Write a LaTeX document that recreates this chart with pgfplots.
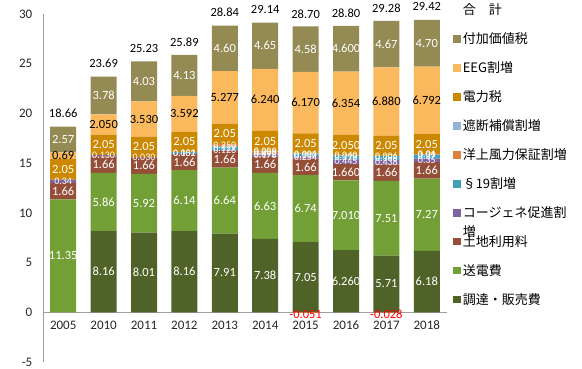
\documentclass[border=0pt]{standalone}
\usepackage{fontspec}
\setmainfont{Carlito}
\newfontfamily\jp{Noto Sans CJK JP}
\usepackage{pgfplots}
\usepackage{pgfplotstable}
\pgfplotsset{compat=1.18}
\definecolor{cA}{HTML}{4F6228}
\definecolor{cB}{HTML}{72A036}
\definecolor{cC}{HTML}{954F38}
\definecolor{cD}{HTML}{7F63A0}
\definecolor{cE}{HTML}{3FA0B8}
\definecolor{cF}{HTML}{E0803F}
\definecolor{cG}{HTML}{95B3D7}
\definecolor{cH}{HTML}{CC8800}
\definecolor{cI}{HTML}{FBB95E}
\definecolor{cJ}{HTML}{948A54}

\pgfplotstableread{
x A B C D E F G H I J
0 0 11.35 1.66 0.34 0 0 0 2.05 0.69 2.57
1 8.16 5.86 1.66 0.130 0 0 0 2.05 2.050 3.78
2 8.01 5.92 1.66 0.030 0 0 0 2.05 3.530 4.03
3 8.16 6.14 1.66 0.002 0.151 0 0 2.05 3.592 4.13
4 7.91 6.64 1.66 0.126 0.329 0.250 0 2.05 5.277 4.60
5 7.38 6.63 1.66 0.178 0.092 0.250 0.009 2.05 6.240 4.65
6 7.05 6.74 1.66 0.254 0.237 0 0.006 2.05 6.170 4.58
7 6.260 7.010 1.660 0.445 0.378 0.040 0 2.050 6.354 4.600
8 5.71 7.51 1.66 0.438 0.388 0 0.006 2.05 6.880 4.67
9 6.18 7.27 1.66 0.345 0.370 0.037 0.011 2.05 6.792 4.70
}\data

\pgfplotstableread{
x F lab
6 -0.051 -0.051
8 -0.028 -0.028
}\negdata

\pgfplotstableread{
x y lab
0 18.66 18.66
1 23.69 23.69
2 25.23 25.23
3 25.89 25.89
4 28.84 28.84
5 29.14 29.14
6 28.70 28.70
7 28.80 28.80
8 29.28 29.28
9 29.42 29.42
}\totals

\pgfplotstableread{
x y lab
0 5.675 11.35
0 12.18 1.66
0 14.375 2.05
0 17.375 2.57
1 4.08 8.16
1 11.09 5.86
1 14.85 1.66
1 16.835 2.05
1 21.80 3.78
2 4.005 8.01
2 10.97 5.92
2 14.76 1.66
2 16.645 2.05
2 23.215 4.03
3 4.08 8.16
3 11.23 6.14
3 15.13 1.66
3 17.138 2.05
3 23.82 4.13
4 3.955 7.91
4 11.23 6.64
4 15.38 1.66
4 17.94 2.05
4 26.542 4.60
5 3.69 7.38
5 10.695 6.63
5 14.84 1.66
5 17.224 2.05
5 26.814 4.65
6 3.525 7.05
6 10.42 6.74
6 14.62 1.66
6 16.972 2.05
6 26.457 4.58
7 3.13 6.260
7 9.765 7.010
7 14.10 1.660
7 16.818 2.050
7 26.497 4.600
8 2.855 5.71
8 9.465 7.51
8 14.05 1.66
8 16.737 2.05
8 26.977 4.67
9 3.09 6.18
9 9.815 7.27
9 14.28 1.66
9 16.898 2.05
9 27.065 4.70
}\labW

\pgfplotstableread{
x y lab
0 13.18 0.34
1 15.745 0.130
2 15.605 0.030
3 15.961 0.002
3 16.0375 0.151
4 16.273 0.126
4 16.5005 0.329
4 16.79 0.250
5 15.759 0.178
5 15.894 0.092
5 16.065 0.250
5 16.1945 0.009
6 15.577 0.254
6 15.8225 0.237
6 15.944 0.006
7 15.1525 0.445
7 15.564 0.378
7 15.773 0.040
8 15.099 0.438
8 15.512 0.388
8 15.709 0.006
9 15.2825 0.35
9 15.64 0.37
9 15.8435 0.04
9 15.8675 0.01
}\labS

\pgfplotstableread{
x y lab
0 15.745 0.69
1 18.885 2.050
2 19.435 3.530
3 19.959 3.592
4 21.6035 5.277
5 21.369 6.240
6 21.082 6.170
7 21.02 6.354
8 21.202 6.880
9 21.319 6.792
}\labK

\pgfplotsset{
  common/.style={
    at={(0,0)}, anchor=south west,
    scale only axis, width=404pt, height=348pt,
    xmin=-0.5, xmax=9.5, ymin=-5, ymax=30,
    enlargelimits=false,
  },
  lbl/.style 2 args={draw=none, mark=none, nodes near coords,
    point meta=explicit symbolic, nodes near coords align={center},
    every node near coord/.append style={anchor=center, inner sep=0pt,
      font=\fontsize{#2}{#2}\selectfont, text=#1}},
}

\begin{document}
\begin{tikzpicture}
\path[use as bounding box] (-43pt,-7pt) rectangle (539pt,362pt);
\begin{axis}[
  common,
  ybar stacked, bar width=26pt,
  xtick={0,...,9},
  xticklabels={2005,2010,2011,2012,2013,2014,2015,2016,2017,2018},
  ytick={-5,0,5,10,15,20,25,30},
  axis x line=middle, axis y line=left,
  axis line style={-, draw=gray!75},
  tick style={draw=none},
  ticklabel style={font=\fontsize{13}{15}\selectfont, text=black!85},
  xticklabel style={yshift=-3pt},
  yticklabel style={xshift=-5pt},
  /pgf/number format/assume math mode=true,
  legend image code/.code={\fill[#1] (0pt,-3.75pt) rectangle (7.5pt,3.75pt);},
  reverse legend,
  legend cell align=left,
  legend style={at={(1.015,1.035)}, anchor=north west, draw=none, fill=none,
    font=\jp\fontsize{13}{15}\selectfont, row sep=12.5pt, inner sep=0pt},
]
\addplot[fill=cA, draw=none] table[x=x, y=A]{\data};
\addlegendentry{調達・販売費}
\addplot[fill=cB, draw=none] table[x=x, y=B]{\data};
\addlegendentry{送電費}
\addplot[fill=cC, draw=none] table[x=x, y=C]{\data};
\addlegendentry{土地利用料}
\addplot[fill=cD, draw=none] table[x=x, y=D]{\data};
\addlegendentry{\rlap{\smash{\raisebox{-19pt}{増}}}コージェネ促進割}
\addplot[fill=cE, draw=none] table[x=x, y=E]{\data};
\addlegendentry{§19割増}
\addplot[fill=cF, draw=none] table[x=x, y=F]{\data};
\addlegendentry{洋上風力保証割増}
\addplot[fill=cG, draw=none] table[x=x, y=G]{\data};
\addlegendentry{遮断補償割増}
\addplot[fill=cH, draw=none] table[x=x, y=H]{\data};
\addlegendentry{電力税}
\addplot[fill=cI, draw=none] table[x=x, y=I]{\data};
\addlegendentry{EEG割増}
\addplot[fill=cJ, draw=none] table[x=x, y=J]{\data};
\addlegendentry{付加価値税}
\addlegendimage{empty legend}
\addlegendentry{合\quad 計}
\end{axis}
\begin{axis}[common, hide axis, clip=false]
\addplot[ybar, bar width=26pt, bar shift=0pt, fill=cF, draw=none] table[x=x, y=F]{\negdata};
\addplot[lbl={white}{12.5}] table[x=x, y=y, meta=lab]{\labW};
\addplot[lbl={white}{10}] table[x=x, y=y, meta=lab]{\labS};
\addplot[lbl={black}{12.5}] table[x=x, y=y, meta=lab]{\labK};
\addplot[draw=none, mark=none, nodes near coords, point meta=explicit symbolic,
  nodes near coords align={center},
  every node near coord/.append style={anchor=center, inner sep=0pt, yshift=-2pt,
    font=\fontsize{12.5}{12.5}\selectfont, text=red}] table[x=x, y=F, meta=lab]{\negdata};
\addplot[draw=none, mark=none, nodes near coords, point meta=explicit symbolic,
  nodes near coords align={center},
  every node near coord/.append style={anchor=center, inner sep=0pt, yshift=13pt,
    font=\fontsize{12.5}{12.5}\selectfont, text=black}] table[x=x, y=y, meta=lab]{\totals};
\end{axis}
\end{tikzpicture}
\end{document}
